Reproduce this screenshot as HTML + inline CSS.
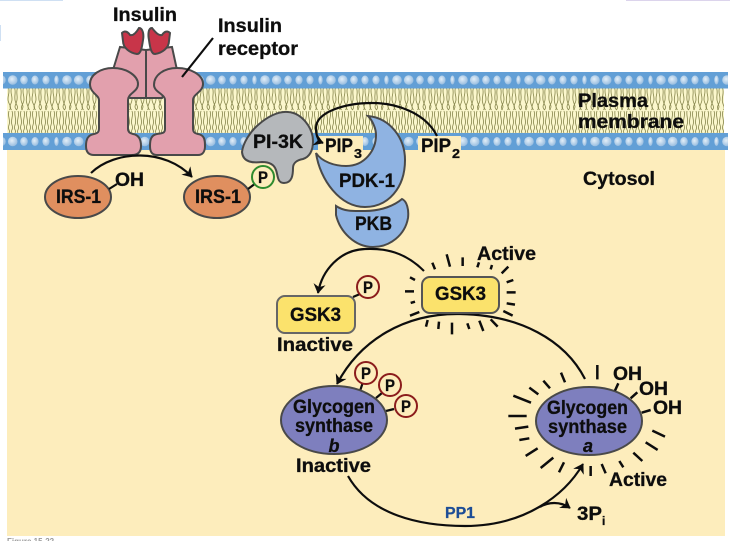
<!DOCTYPE html>
<html><head><meta charset="utf-8"><style>
html,body{margin:0;padding:0;background:#fff;width:730px;height:541px;overflow:hidden}
svg{display:block}
text{font-family:"Liberation Sans",sans-serif;font-weight:bold;fill:#111;stroke:#111;stroke-width:.3}
.s{stroke:#4a4a4a;stroke-width:2}
.l{stroke:#111;stroke-width:2.2;fill:none}
.p{fill:#fdedbc;stroke:#8b1a1a;stroke-width:2}
</style></head><body>
<svg width="730" height="541" viewBox="0 0 730 541" xmlns="http://www.w3.org/2000/svg">
<defs>
<radialGradient id="bd" cx=".42" cy=".4" r=".65"><stop offset="0" stop-color="#e4eff8"/><stop offset="1" stop-color="#92b9de"/></radialGradient>
<pattern id="beads" patternUnits="userSpaceOnUse" x="7" y="72" width="66" height="17">
<ellipse cx="5.7" cy="8" rx="4.8" ry="4.8" fill="url(#bd)"/>
<ellipse cx="17" cy="8" rx="3.8" ry="4.5" fill="url(#bd)"/>
<ellipse cx="28" cy="8" rx="3.6" ry="4.5" fill="url(#bd)"/>
<ellipse cx="39" cy="8" rx="3.6" ry="4.5" fill="url(#bd)"/>
<ellipse cx="49.5" cy="8" rx="2.2" ry="4.5" fill="url(#bd)"/>
<ellipse cx="60" cy="8" rx="4.8" ry="4.8" fill="url(#bd)"/>
</pattern>
<pattern id="lip" patternUnits="userSpaceOnUse" x="7" y="88" width="24" height="45">
<g fill="none" stroke="#8c8b52" stroke-width=".85">
<path d="M1.5 0c2 5-2 9 0 14s3 5 1 8"/><path d="M4.5 0c-2 5 2 9 0 14s-2 5 0 8"/><path d="M7.5 0c2 4-1 9 1 14s3 5 1 8"/><path d="M10.5 0c-2 5 1 9-1 14s-2 5 0 8"/><path d="M13.5 0c2 5-1 9 1 14s2 5 0 8"/><path d="M16.5 0c-2 5 2 9 0 14s-3 5-1 8"/><path d="M19.5 0c2 5-1 9 0 14s3 5 1 8"/><path d="M22.5 0c-2 5 2 9 0 14s-2 5 0 8"/>
<path d="M2 23c-2 5 2 9 0 14s2 5 0 8"/><path d="M5 23c2 5-2 9 0 14s-2 5 0 8"/><path d="M8 23c-1 5 2 9 0 14s2 5 0 8"/><path d="M11 23c2 5-2 9 0 14s-2 5 0 8"/><path d="M14 23c-2 5 2 9 0 14s2 5 0 8"/><path d="M17 23c2 5-2 9 0 14s-2 5 0 8"/><path d="M20 23c-2 5 2 9 0 14s2 5 0 8"/><path d="M23 23c2 5-2 9 0 14s-2 5 0 8"/>
</g></pattern>
<marker id="ah" markerUnits="userSpaceOnUse" viewBox="-10 -6 12 12" refX="0" refY="0" markerWidth="12" markerHeight="12" orient="auto"><path d="M-8 -5L0 0L-8 5L-5.5 0Z" fill="#111" stroke="#111" stroke-width=".8"/></marker>
<filter id="b" x="0" y="0" width="100%" height="100%"><feGaussianBlur stdDeviation=".35"/></filter>
</defs>
<g filter="url(#b)">
<rect width="730" height="541" fill="#fff"/>
<rect x="0" y="0" width="63" height="1" fill="#cfe0f3"/>
<rect x="626" y="0" width="104" height="1" fill="#dcd4ec"/>
<rect x="0" y="25" width="1" height="16" fill="#cfe0f3"/>
<rect x="7" y="150" width="718" height="386" fill="#fdedbc"/>
<rect x="7" y="88" width="717" height="45" fill="#fbf7cc"/>
<rect x="7" y="88" width="717" height="45" fill="url(#lip)"/>
<rect x="3" y="72" width="725" height="16.5" fill="#629fd6"/>
<rect x="3" y="72" width="725" height="16.5" fill="url(#beads)"/>
<rect x="3" y="133" width="725" height="17" fill="#629fd6"/>
<rect x="3" y="72" width="725" height="17" fill="url(#beads)" transform="translate(0,61.5)"/>
<rect x="318" y="136" width="45" height="15" fill="#fdedbc"/>
<rect x="418" y="136" width="43" height="15" fill="#fdedbc"/>

<!-- receptor -->
<path class="s" fill="#e2a0ad" d="M120 47L113 70L130 98L146 98L146 50Z"/>
<path class="s" fill="#e2a0ad" d="M172 47L177 70L162 98L146 98L146 50Z"/>
<path fill="#c8354a" stroke="#4a4a4a" stroke-width="2" d="M122 33C125 30 128 32 130 35C133 36 136 33 139 28C143 28 144 35 143 40C142 47 141 54 137 54C130 53 123 48 123 41Z"/>
<path fill="#c8354a" stroke="#4a4a4a" stroke-width="2" d="M170 33C167 30 164 32 162 35C159 36 156 33 152 28C148 28 148 35 149 40C150 47 151 54 155 54C162 53 169 48 169 41Z"/>
<path class="s" fill="#e2a0ad" d="M113 68C127 68 138 76 138 84C138 92 128 93 128 100L128 129Q128 133 133 134C139 135 141 140 141 146C141 152 138 155 132 155L94 155C88 155 86 151 86 146C86 139 88 135 94 134C98 133 99 132 99 128L99 100C99 95 90 93 90 84C90 75 100 68 113 68Z"/>
<path class="s" fill="#e2a0ad" d="M177 68C191 68 203 75 203 84C203 92 193 94 193 100L193 128C193 132 194 133 198 134C204 135 205 139 205 146C205 151 203 155 198 155L157 155C152 155 150 152 150 146C150 140 151 135 157 134C163 133 165 133 165 129L165 100C165 94 154 92 154 85C154 75 164 68 177 68Z"/>
<line x1="213" y1="38" x2="182" y2="77" stroke="#111" stroke-width="2.2"/>

<!-- IRS -->
<ellipse class="s" cx="78" cy="197" rx="33" ry="21" fill="#e08f5f"/>
<ellipse class="s" cx="217" cy="197" rx="33" ry="21" fill="#e08f5f"/>
<line class="l" x1="109" y1="189" x2="117" y2="184"/>
<line class="l" x1="248" y1="189" x2="256" y2="183"/>
<path class="l" d="M91 173C115 150 165 148 192 177" marker-end="url(#ah)"/>

<!-- PI-3K -->
<path class="s" fill="#b5b8bb" d="M242 152C243 143 250 132 258 125C267 117 278 111 288 112C302 113 313 128 313 141C313 152 309 157 303 159C297 160 293 163 293 168C293 175 292 183 284 183C277 183 278 175 276 170C274 164 268 162 262 162C254 163 243 163 242 152Z"/>
<circle cx="263" cy="177" r="11" fill="#fdedbc" stroke="#2e8b2e" stroke-width="2"/>

<!-- PDK / PKB -->
<path class="s" fill="#8fb3e2" d="M336 206C345 212 355 211 365 211C382 211 395 205 402 199C407 201 409 210 408 218C405 235 390 247 373 247C355 247 340 232 336 215Z"/>
<path class="s" fill="#8fb3e2" d="M368 116C390 118 405 138 405 160C405 188 388 207 365 207C340 207 320 180 316 153C322 162 335 166 346 166C365 166 376 150 376 135C376 128 372 120 368 116Z"/>
<path class="l" d="M437 136C425 112 395 103 372 103C345 103 316 112 316 128C316 136 318 141 323 143" marker-end="url(#ah)"/>

<!-- GSK3 -->
<path class="l" d="M424 271C405 252 385 248 365 249C340 250 322 270 318 293" marker-end="url(#ah)"/>
<rect x="277" y="296" width="78" height="37" rx="8" fill="#fbe26c" stroke="#666" stroke-width="2"/>
<line class="l" x1="353" y1="297" x2="360" y2="294"/>
<circle class="p" cx="368" cy="287" r="11"/>
<path class="l" d="M585 379C565 340 520 315 460 314C405 313 360 340 337 384" marker-end="url(#ah)"/>
<rect x="422" y="277" width="77" height="36" rx="8" fill="#fbe26c" stroke="#555" stroke-width="2"/>
<g transform="translate(390,230) scale(.3333)" stroke="#111" stroke-width="7.5" fill="none">
<path d="M127 98L135 118M170 73L180 110M218 82V108M262 112L267 97M302 118L306 105M335 130L355 110M350 157L370 150M350 187H377M350 220L375 224M340 243L368 257M302 268L323 290M268 272L280 303M232 280L238 297M186 278V313M147 275L145 297M113 270L108 290M60 257L88 246M62 219L75 215M45 184H72M60 142L75 150"/>
</g>

<!-- Glycogen synthase b -->
<line class="l" x1="360" y1="391" x2="363" y2="382"/>
<line class="l" x1="376" y1="398" x2="382" y2="393"/>
<line class="l" x1="386" y1="411" x2="394" y2="409"/>
<ellipse class="s" cx="334" cy="420" rx="53" ry="34" fill="#7e7fbe"/>
<circle class="p" cx="366" cy="373" r="11"/>
<circle class="p" cx="390" cy="385" r="11"/>
<circle class="p" cx="406" cy="406" r="11"/>

<!-- Glycogen synthase a -->
<ellipse class="s" cx="589" cy="421" rx="53" ry="34" fill="#7e7fbe"/>
<g transform="translate(490,340) scale(.3333)" stroke="#111" stroke-width="7.5" fill="none">
<path d="M322 75V118M213 98L225 127M160 122L180 145M118 143L145 163M70 167L123 188M55 228H110M75 266L115 260M88 300L118 295M107 348L143 325M152 384L190 353M207 397L222 367M302 378V408M335 372L347 400M388 363L400 382M430 338L457 363M467 307L503 330M487 272L525 290M375 152L385 130M422 175L442 157M455 218L482 210"/>
</g>

<!-- bottom arc -->
<path class="l" d="M348 476C370 515 420 526 465 526C525 526 565 495 583 464" marker-end="url(#ah)"/>
<path class="l" d="M540 507C548 502 560 501 570 508" marker-end="url(#ah)" stroke-width="1.8"/>

<!-- text -->
<text x="113" y="21" font-size="19" textLength="64" lengthAdjust="spacingAndGlyphs">Insulin</text>
<text x="218" y="32" font-size="19" textLength="64" lengthAdjust="spacingAndGlyphs">Insulin</text>
<text x="218" y="55" font-size="19" textLength="80" lengthAdjust="spacingAndGlyphs">receptor</text>
<text x="578" y="107" font-size="19" textLength="70" lengthAdjust="spacingAndGlyphs">Plasma</text>
<text x="578" y="128" font-size="19" textLength="106" lengthAdjust="spacingAndGlyphs">membrane</text>
<text x="583" y="185" font-size="19" textLength="72" lengthAdjust="spacingAndGlyphs">Cytosol</text>
<text x="56" y="203" font-size="19" textLength="45" lengthAdjust="spacingAndGlyphs">IRS-1</text>
<text x="195" y="203" font-size="19" textLength="46" lengthAdjust="spacingAndGlyphs">IRS-1</text>
<text x="115" y="186" font-size="19" textLength="29" lengthAdjust="spacingAndGlyphs">OH</text>
<text x="258" y="183" font-size="17" textLength="10" lengthAdjust="spacingAndGlyphs">P</text>
<text x="253" y="148" font-size="19" textLength="50" lengthAdjust="spacingAndGlyphs">PI-3K</text>
<text x="325" y="152" font-size="19" textLength="28" lengthAdjust="spacingAndGlyphs">PIP</text>
<text x="354" y="158" font-size="13" textLength="8" lengthAdjust="spacingAndGlyphs">3</text>
<text x="421" y="152" font-size="19" textLength="30" lengthAdjust="spacingAndGlyphs">PIP</text>
<text x="452" y="158" font-size="13" textLength="8" lengthAdjust="spacingAndGlyphs">2</text>
<text x="339" y="187" font-size="19" textLength="56" lengthAdjust="spacingAndGlyphs">PDK-1</text>
<text x="355" y="230" font-size="19" textLength="37" lengthAdjust="spacingAndGlyphs">PKB</text>
<text x="477" y="260" font-size="19" textLength="59" lengthAdjust="spacingAndGlyphs">Active</text>
<text x="435" y="300" font-size="19" textLength="51" lengthAdjust="spacingAndGlyphs">GSK3</text>
<text x="290" y="321" font-size="19" textLength="51" lengthAdjust="spacingAndGlyphs">GSK3</text>
<text x="363" y="293" font-size="17" textLength="10" lengthAdjust="spacingAndGlyphs">P</text>
<text x="277" y="351" font-size="19" textLength="76" lengthAdjust="spacingAndGlyphs">Inactive</text>
<text x="361" y="379" font-size="17" textLength="10" lengthAdjust="spacingAndGlyphs">P</text>
<text x="385" y="391" font-size="17" textLength="10" lengthAdjust="spacingAndGlyphs">P</text>
<text x="401" y="412" font-size="17" textLength="10" lengthAdjust="spacingAndGlyphs">P</text>
<text x="293" y="413" font-size="19" textLength="82" lengthAdjust="spacingAndGlyphs">Glycogen</text>
<text x="295" y="432" font-size="19" textLength="78" lengthAdjust="spacingAndGlyphs">synthase</text>
<text x="334" y="452" font-size="18" font-style="italic" text-anchor="middle">b</text>
<text x="296" y="472" font-size="19" textLength="75" lengthAdjust="spacingAndGlyphs">Inactive</text>
<text x="547" y="414" font-size="19" textLength="81" lengthAdjust="spacingAndGlyphs">Glycogen</text>
<text x="548" y="433" font-size="19" textLength="79" lengthAdjust="spacingAndGlyphs">synthase</text>
<text x="588" y="452" font-size="18" font-style="italic" text-anchor="middle">a</text>
<text x="613" y="380" font-size="19" textLength="29" lengthAdjust="spacingAndGlyphs">OH</text>
<text x="639" y="395" font-size="19" textLength="29" lengthAdjust="spacingAndGlyphs">OH</text>
<text x="653" y="414" font-size="19" textLength="29" lengthAdjust="spacingAndGlyphs">OH</text>
<text x="609" y="486" font-size="19" textLength="58" lengthAdjust="spacingAndGlyphs">Active</text>
<text x="577" y="520" font-size="19" textLength="25" lengthAdjust="spacingAndGlyphs">3P</text>
<text x="602" y="525" font-size="12">i</text>
<text x="445" y="518" font-size="16" textLength="30" lengthAdjust="spacingAndGlyphs" style="fill:#1f4e96;stroke:#1f4e96">PP1</text>
<text x="7" y="544" font-size="8" style="fill:#999;stroke:none">Figure 15-22</text>
</g>
</svg>
</body></html>
